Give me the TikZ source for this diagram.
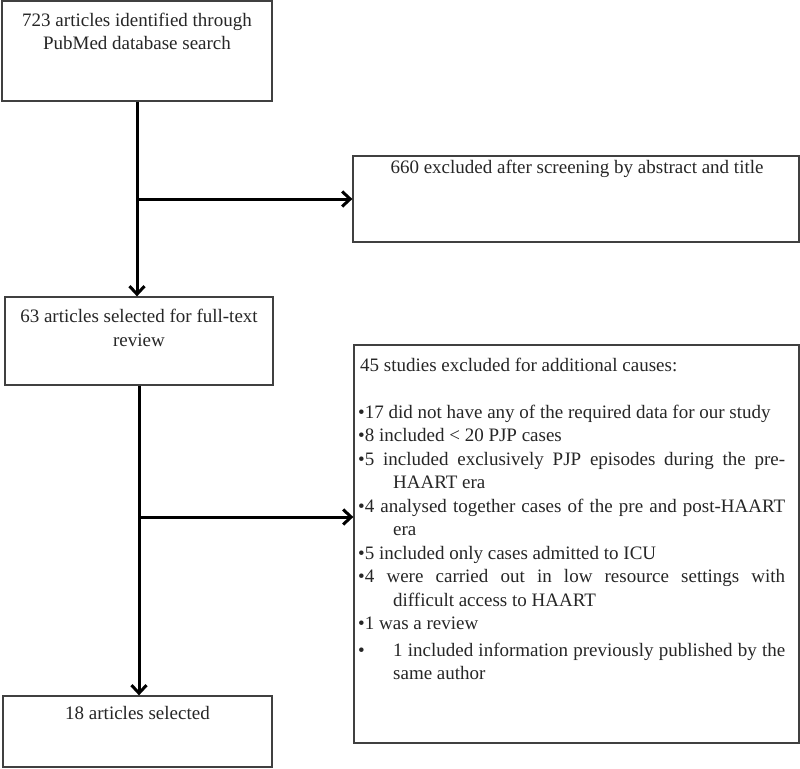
\documentclass[tikz,border=0pt]{standalone}
\usepackage{fontspec}
\setmainfont{Liberation Serif}
\usetikzlibrary{arrows.meta}
\begin{document}
\begin{tikzpicture}[x=1pt,y=-1pt,
  box/.style={draw=black!75, line width=1.3pt, fill=white, inner sep=0pt},
  txt/.style={inner sep=0pt, text=black!85, font=\fontsize{19}{23.5}\selectfont},
  flow/.style={line width=3pt, -{Straight Barb[length=8pt,width=15pt,line width=3pt]}}]
\useasboundingbox (0,0) rectangle (800,768);
% boxes
\node[box, minimum width=270pt, minimum height=100pt] (b1) at (137,51) {};
\node[box, minimum width=446pt, minimum height=86pt] (b2) at (576,199) {};
\node[box, minimum width=268pt, minimum height=88pt] (b3) at (139,341) {};
\node[box, minimum width=445pt, minimum height=398pt] (b4) at (576.5,544) {};
\node[box, minimum width=269pt, minimum height=71pt] (b5) at (137.5,731.5) {};
% texts
\node[txt, anchor=base, align=center] (t1) at (137,50) {723 articles identified through\\PubMed database search};
\node[txt, anchor=base, align=center] (t2) at (577,173) {660 excluded after screening by abstract and title};
\node[txt, anchor=base, align=center] (t3) at (139,346) {63 articles selected for full-text\\review};
\node[txt, anchor=base, align=center] (t5) at (137.5,719) {18 articles selected};
\node[txt, anchor=base west, text width=427pt, align=justify] (t4) at (358,371) {%
\tolerance=10000\hbadness=10000\parindent=0pt
\hspace*{2pt}45 studies excluded for additional causes:\par
\vspace{23.5pt}
\hangindent=35pt\hangafter=1 •17 did not have any of the required data for our study\par
\hangindent=35pt\hangafter=1 •8 included < 20 PJP cases\par
\hangindent=35pt\hangafter=1 •5 included exclusively PJP episodes during the pre-\linebreak HAART era\par
\hangindent=35pt\hangafter=1 •4 analysed together cases of the pre and post-HAART\linebreak era\par
\hangindent=35pt\hangafter=1 •5 included only cases admitted to ICU\par
\hangindent=35pt\hangafter=1 •4 were carried out in low resource settings with\linebreak difficult access to HAART\par
\hangindent=35pt\hangafter=1 •1 was a review\par
\vspace{3pt}
\hangindent=35pt\hangafter=1 \makebox[35pt][l]{•}1 included information previously published by the\linebreak same author\par};
% connectors
\coordinate (j2) at (138,517);
\draw[flow] (b1.south) -- (b1.south |- b3.north);
\draw[flow] (b1.south |- b2.west) -- (b2.west);
\draw[flow] (b3.south) -- (b3.south |- b5.north);
\draw[flow] (j2) -- (j2 -| b4.west);
\end{tikzpicture}
\end{document}
